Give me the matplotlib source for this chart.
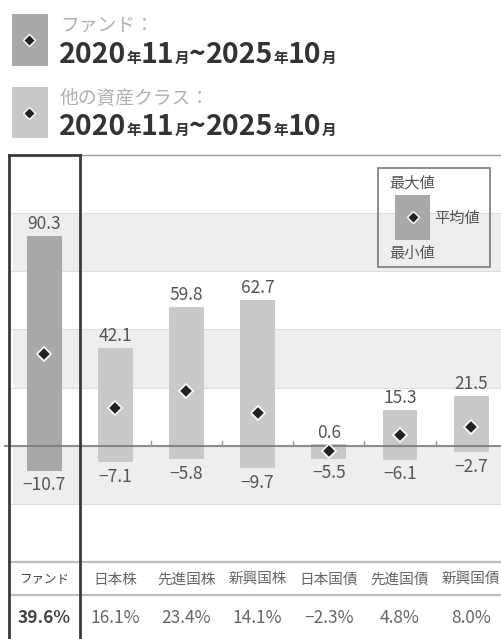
import re
import matplotlib
matplotlib.use("Agg")
import matplotlib.pyplot as plt
import matplotlib.transforms as mtransforms
from matplotlib.patches import Rectangle
from matplotlib.lines import Line2D

plt.rcParams['font.family'] = ['Noto Sans CJK JP', 'DejaVu Sans']

# data
categories = ['ファンド', '日本株', '先進国株', '新興国株', '日本国債', '先進国債', '新興国債']
max_vals = [90.3, 42.1, 59.8, 62.7, 0.6, 15.3, 21.5]
min_vals = [-10.7, -7.1, -5.8, -9.7, -5.5, -6.1, -2.7]
mean_vals = [39.6, 16.1, 23.4, 14.1, -2.3, 4.8, 8.0]
header_labels = ['ファンド：', '他の資産クラス：']
period = '2020年11月~2025年10月'
key_labels = ['最大値', '平均値', '最小値']

FUND_COLOR = '#a9a9a9'
OTHER_COLOR = '#c9c9c9'
TEXT = '#555555'

W, H = 501, 639
fig = plt.figure(figsize=(W / 100, H / 100), dpi=100)


def fx(px):
    return px / W


def fy(py):
    return 1 - py / H


# main plot area
ax = fig.add_axes([0, fy(562), 1, fy(155) - fy(562)])
ax.set_xlim(-0.62, 6.42)
ax.set_ylim(-50, 125)
ax.axis('off')

for lo in (-25, 25, 75):
    ax.axhspan(lo, lo + 25, xmin=0.026, color='#eeeeee', lw=0, zorder=0)
for v in (-25, 25, 50, 75, 100):
    ax.axhline(v, xmin=0.02, color='#dddddd', lw=0.8, zorder=0.5)
ax.axhline(125, xmin=0.016, color='#9a9a9a', lw=1, zorder=1, clip_on=False)

x = list(range(len(categories)))
colors = [FUND_COLOR] + [OTHER_COLOR] * (len(categories) - 1)
heights = [hi - lo for hi, lo in zip(max_vals, min_vals)]
ax.bar(x, heights, bottom=min_vals, width=0.49, color=colors, zorder=2)

ax.axhline(0, xmin=0.01, color='#7a7a7a', lw=1.5, alpha=0.85, zorder=3)
for b in x[1:-1]:
    ax.plot([b + 0.5, b + 0.5], [0, 2.2], color='#999999', lw=1, zorder=3)

ax.plot(x, mean_vals, 'D', color='#222222', mec='white', mew=1.2, ms=7, zorder=4)

for i in x:
    ax.annotate(f'{max_vals[i]:.1f}', (i, max_vals[i]), xytext=(0, 2),
                textcoords='offset points', ha='center', va='bottom',
                fontsize=12.5, color=TEXT)
    ax.annotate(f'{min_vals[i]:.1f}'.replace('-', '−'), (i, min_vals[i]),
                xytext=(0, -4), textcoords='offset points', ha='center',
                va='top', fontsize=12.5, color=TEXT)

# table under the chart
trans = mtransforms.blended_transform_factory(ax.transData, fig.transFigure)
for i in x:
    fund = i == 0
    ax.text(i, fy(580), categories[i], transform=trans, ha='center', va='center',
            fontsize=9 if fund else 10.5, color='#444444' if fund else '#666666')
    ax.text(i, fy(618), f'{mean_vals[i]:.1f}%'.replace('-', '−'), transform=trans,
            ha='center', va='center', fontsize=12.5,
            fontweight='bold' if fund else 'normal',
            color='#444444' if fund else '#666666')

for py in (562, 595):
    fig.add_artist(Line2D([fx(9), 1], [fy(py), fy(py)], color='#bdbdbd', lw=1.6))

# black frame around the fund column
for xs, ys in (([-0.5, -0.5], [fy(155), 0]), ([0.5, 0.5], [fy(155), 0]),
               ([-0.5, 0.5], [fy(155), fy(155)])):
    fig.add_artist(Line2D(xs, ys, transform=trans, color='#3a3a3a', lw=2))

# header legend
renderer = fig.canvas.get_renderer()


def draw_period(x0, y_base):
    xp = x0
    for piece in re.findall(r'\d+|\D', period):
        small = piece in ('年', '月')
        t = fig.text(xp, y_base, piece, fontsize=10.5 if small else 20.5,
                     fontweight='bold', color='#333333', va='baseline')
        xp += t.get_window_extent(renderer).width / W


for (top, bottom), col, label in zip(((14, 66), (87, 138)),
                                     (FUND_COLOR, OTHER_COLOR), header_labels):
    fig.add_artist(Rectangle((fx(12), fy(bottom)), fx(36), (bottom - top) / H,
                             transform=fig.transFigure, color=col, lw=0))
    fig.add_artist(Line2D([fx(29)], [fy((top + bottom) / 2)], marker='D',
                          color='#222222', mec='white', mew=1, ms=6.5))
    fig.text(fx(60), fy(top + 11), label, fontsize=13.5, color='#b0b0b0',
             va='center')
    draw_period(fx(59), fy(bottom - 3))

# key box top right
fig.add_artist(Rectangle((fx(378), fy(267)), fx(112), 99 / H,
                         transform=fig.transFigure, fill=False,
                         edgecolor='#7a7a7a', lw=1.2))
fig.add_artist(Rectangle((fx(395), fy(240)), fx(35), 45 / H,
                         transform=fig.transFigure, color=FUND_COLOR, lw=0))
fig.add_artist(Line2D([fx(412.5)], [fy(217)], marker='D', color='#222222',
                      mec='white', mew=1, ms=6.5))
fig.text(fx(412), fy(183), key_labels[0], fontsize=11, color=TEXT,
         ha='center', va='center')
fig.text(fx(434), fy(218), key_labels[1], fontsize=11, color=TEXT,
         ha='left', va='center')
fig.text(fx(412), fy(253), key_labels[2], fontsize=11, color=TEXT,
         ha='center', va='center')

fig.savefig('out.png', dpi=100, facecolor='white')
